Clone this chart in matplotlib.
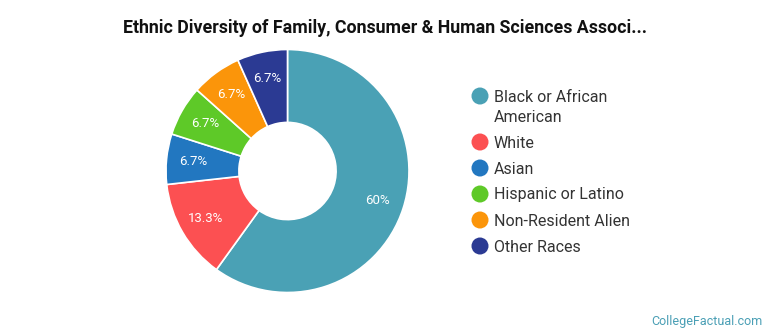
import matplotlib
matplotlib.use("Agg")
import matplotlib.pyplot as plt
from matplotlib.patches import Ellipse

categories = ["Black or African\nAmerican", "White", "Asian", "Hispanic or Latino",
              "Non-Resident Alien", "Other Races"]
values = [60, 13.3, 6.7, 6.7, 6.7, 6.7]
colors = ["#4aa1b5", "#fc5052", "#2277c0", "#5ec928", "#fb950a", "#2b3a93"]
title = "Ethnic Diversity of Family, Consumer & Human Sciences Associ..."

W, H = 770, 335
fig = plt.figure(figsize=(W / 100, H / 100), dpi=100)
fig.patch.set_facecolor("white")

cx, cy, R = 287.5, 171, 121.5
ax = fig.add_axes([(cx - R) / W, (H - cy - R) / H, 2 * R / W, 2 * R / H])
labels_iter = iter([f"{v:g}%" for v in values])
wedges, texts, autotexts = ax.pie(
    values, colors=colors, startangle=90, counterclock=False,
    wedgeprops=dict(width=0.6, edgecolor="white", linewidth=1.2),
    autopct=lambda p: next(labels_iter), pctdistance=0.78,
    textprops=dict(color="white", fontsize=9.5, family="Roboto"))
ax.set_xlim(-1, 1)
ax.set_ylim(-1, 1)
ax.set_aspect("equal")
ax.axis("off")

fig.text(0.5, 1 - 28 / H, title, ha="center", va="center", fontsize=12.8,
         fontweight="bold", family="Roboto", color="#111111")

# legend
leg_x_dot, leg_x_txt = 480, 494
ys = [96, 142, 168, 194, 220, 246]
for lab, col, y in zip(categories, colors, ys):
    fig.patches.append(Ellipse((leg_x_dot / W, 1 - y / H), 17 / W, 17 / H,
                               transform=fig.transFigure, facecolor=col,
                               edgecolor="none"))
    fig.text(leg_x_txt / W, 1 - (y + 5.5) / H, lab.split("\n")[0], ha="left",
             va="baseline", fontsize=11.5, family="Roboto", color="#333333")
    if "\n" in lab:
        fig.text(leg_x_txt / W, 1 - (y + 25.5) / H, lab.split("\n")[1],
                 ha="left", va="baseline", fontsize=11.5, family="Roboto",
                 color="#333333")

fig.text(763 / W, 1 - 321 / H, "CollegeFactual.com", ha="right", va="center",
         fontsize=9, family="Roboto", color="#4a9fb5")

fig.savefig("out.png", dpi=100)
